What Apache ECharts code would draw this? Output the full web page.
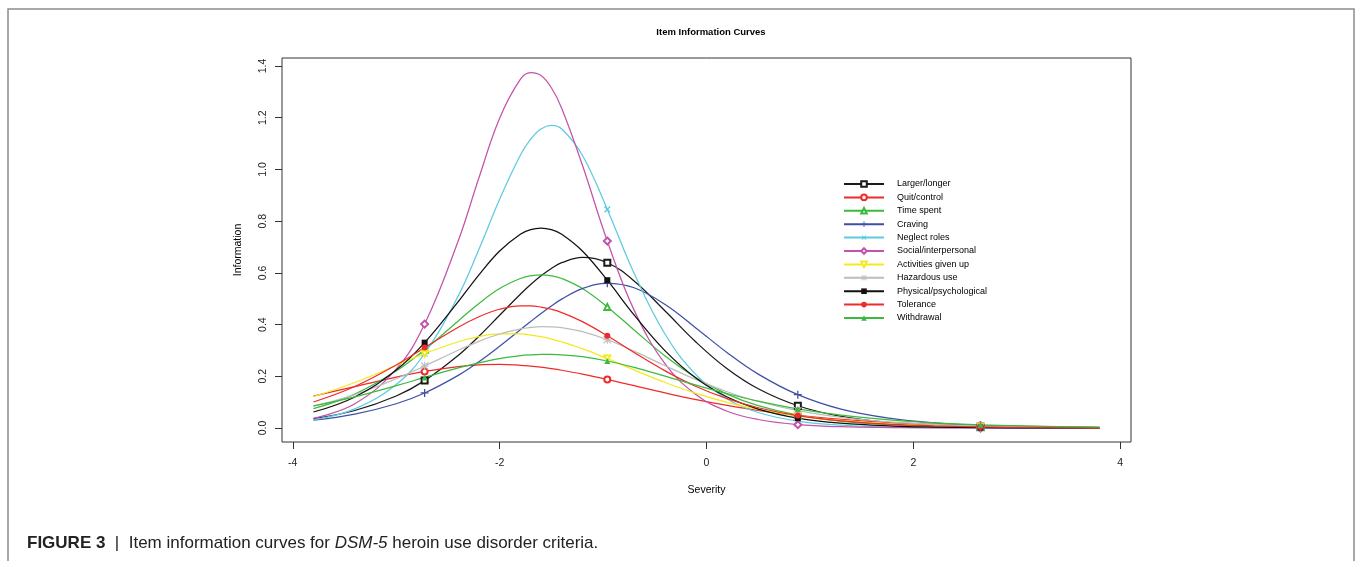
<!DOCTYPE html>
<html>
<head>
    <meta charset="utf-8">
    <title>Item Information Curves</title>
    <script src="https://cdn.jsdelivr.net/npm/echarts@6/dist/echarts.min.js"></script>
    <style type="text/css">
        html, body { margin: 0; padding: 0; background: #fff; }
        #main { width: 1356px; height: 561px; }
    </style>
</head>
<body>
    <div id="main"></div>
    <script type="text/javascript">
        // severity grid (theta) and the points where the markers sit
        const severity = [-3.8, -3.4, -3.0, -2.725, -2.4, -2.2, -2.0, -1.8, -1.7, -1.6, -1.5, -1.4, -1.2,
                          -0.959, -0.7, -0.4, -0.1, 0.2, 0.5, 0.883, 1.3, 1.8, 2.2, 2.649, 3.2, 3.8];
        const markerAt = [-2.725, -0.959, 0.883, 2.649];

        // information values, one per severity point
        const largerLonger = [0.0363, 0.0679, 0.1239, 0.1834, 0.2809, 0.355, 0.436, 0.5172, 0.5549, 0.5887, 0.6173, 0.6394, 0.6598,
                              0.6392, 0.569, 0.4525, 0.3318, 0.2291, 0.1517, 0.0863, 0.0453, 0.0205, 0.0108, 0.0052, 0.0021, 0.0008];
        const quitControl = [0.1236, 0.16, 0.1968, 0.2189, 0.2379, 0.2443, 0.2459, 0.2428, 0.2395, 0.2351, 0.2298, 0.2235, 0.2086,
                             0.1878, 0.1638, 0.136, 0.1102, 0.0875, 0.0684, 0.0491, 0.0337, 0.0211, 0.0144, 0.0093, 0.0054, 0.003];
        const timeSpent = [0.075, 0.1314, 0.2205, 0.3026, 0.4142, 0.4818, 0.5393, 0.5782, 0.5885, 0.592, 0.5885, 0.5782, 0.5393,
                           0.4685, 0.3791, 0.2787, 0.1947, 0.1314, 0.0865, 0.0497, 0.0267, 0.0125, 0.0068, 0.0034, 0.0015, 0.0006];
        const craving = [0.0302, 0.0537, 0.094, 0.1356, 0.2037, 0.2563, 0.316, 0.3799, 0.4119, 0.443, 0.4722, 0.4986, 0.5393,
                         0.5599, 0.5424, 0.4777, 0.3863, 0.2915, 0.2086, 0.1291, 0.0733, 0.036, 0.0201, 0.0103, 0.0045, 0.0019];
        const neglectRoles = [0.0318, 0.0742, 0.1688, 0.2882, 0.5112, 0.6914, 0.8848, 1.0549, 1.1169, 1.1564, 1.17, 1.1564, 1.0549,
                              0.8456, 0.5982, 0.3627, 0.2058, 0.1124, 0.0601, 0.0267, 0.0109, 0.0037, 0.0016, 0.0006, 0.0002, 0.0001];
        const socialInterpersonal = [0.0376, 0.0941, 0.2278, 0.402, 0.724, 0.968, 1.198, 1.348, 1.374, 1.363, 1.316, 1.237, 1.017,
                                     0.723, 0.456, 0.248, 0.129, 0.065, 0.033, 0.013, 0.005, 0.002, 0.001, 0.0002, 0.0001, 0];
        const activitiesGivenUp = [0.1214, 0.1762, 0.2417, 0.2875, 0.3336, 0.3533, 0.3637, 0.3637, 0.3597, 0.3533, 0.3445, 0.3336, 0.3068,
                                   0.2685, 0.2247, 0.1762, 0.1338, 0.0992, 0.0722, 0.0473, 0.0293, 0.0163, 0.0102, 0.0059, 0.0031, 0.0015];
        const hazardousUse = [0.0844, 0.1295, 0.1905, 0.24, 0.3009, 0.3353, 0.3637, 0.3833, 0.389, 0.3918, 0.3914, 0.3881, 0.3727,
                              0.3414, 0.2972, 0.241, 0.1871, 0.1404, 0.1027, 0.0672, 0.0413, 0.0227, 0.0139, 0.008, 0.004, 0.0019];
        const physicalPsych = [0.062, 0.1202, 0.224, 0.3302, 0.4888, 0.5924, 0.6848, 0.7496, 0.7671, 0.773, 0.7671, 0.7496, 0.6848,
                               0.5716, 0.4373, 0.2983, 0.1927, 0.1202, 0.0734, 0.0383, 0.0187, 0.0078, 0.0039, 0.0018, 0.0007, 0.0002];
        const tolerance = [0.1006, 0.1607, 0.2439, 0.311, 0.3898, 0.4305, 0.4593, 0.4724, 0.4724, 0.468, 0.4593, 0.4466, 0.4113,
                           0.3567, 0.2923, 0.2211, 0.1607, 0.1135, 0.0785, 0.048, 0.0277, 0.0141, 0.0082, 0.0044, 0.0021, 0.0009];
        const withdrawal = [0.086, 0.1209, 0.1637, 0.1956, 0.2324, 0.2523, 0.2685, 0.2796, 0.2829, 0.2847, 0.2849, 0.2834, 0.2758,
                            0.2592, 0.2346, 0.2009, 0.1659, 0.133, 0.1041, 0.0741, 0.05, 0.0304, 0.0202, 0.0127, 0.0071, 0.0038];

        // tick labels
        const xTicks = [-4, -2, 0, 2, 4];
        const yTicks = [0, 0.2, 0.4, 0.6, 0.8, 1.0, 1.2, 1.4];

        // marker shapes (R pch 3, 4, 8)
        const plusPath = 'path://M4.2,0h1.6v10h-1.6z M0,4.2h10v1.6h-10z';
        const starPath = 'path://M4.3,0h1.4v10h-1.4z M0,4.3h10v1.4h-10z M1,0L10,9L9,10L0,1z M9,0L10,1L1,10L0,9z';

        const items = [
            {name: 'Larger/longer',          values: largerLonger,        color: '#1a1a1a', symbol: 'emptyRect'},
            {name: 'Quit/control',           values: quitControl,         color: '#ee2b2b', symbol: 'emptyCircle'},
            {name: 'Time spent',             values: timeSpent,           color: '#3dba3d', symbol: 'emptyTriangle'},
            {name: 'Craving',                values: craving,             color: '#3f4fa6', symbol: plusPath, size: 8},
            {name: 'Neglect roles',          values: neglectRoles,        color: '#5fc9e0', symbol: plusPath, size: 8, rotate: 45},
            {name: 'Social/interpersonal',   values: socialInterpersonal, color: '#c452aa', symbol: 'emptyDiamond', size: 7},
            {name: 'Activities given up',    values: activitiesGivenUp,   color: '#f2ea1e', symbol: 'emptyTriangle', rotate: 180},
            {name: 'Hazardous use',          values: hazardousUse,        color: '#bdbdbd', symbol: starPath, size: 8},
            {name: 'Physical/psychological', values: physicalPsych,       color: '#111111', symbol: 'rect'},
            {name: 'Tolerance',              values: tolerance,           color: '#ee2b2b', symbol: 'circle'},
            {name: 'Withdrawal',             values: withdrawal,          color: '#3dba3d', symbol: 'triangle'}
        ];

        const series = items.map(function (it) {
            const data = severity.map(function (x, i) {
                if (markerAt.indexOf(x) > -1) return [x, it.values[i]];
                return {value: [x, it.values[i]], symbol: 'none'};
            });
            return {
                name: it.name,
                type: 'line',
                data: data,
                smooth: 0.4,
                symbol: it.symbol,
                symbolSize: it.size || 6,
                symbolRotate: it.rotate || 0,
                showSymbol: true,
                lineStyle: {color: it.color, width: 1.25},
                itemStyle: {color: it.color, borderWidth: 1},
                emphasis: {disabled: true},
                clip: false
            };
        });

        const myChart = echarts.init(document.getElementById('main'), null, {renderer: 'canvas'});
        const font = '"Liberation Sans", Arial, Helvetica, sans-serif';

        const option = {
            animation: false,
            textStyle: {fontFamily: font},
            title: {
                text: 'Item Information Curves',
                left: 706,
                top: 22,
                textAlign: 'center',
                textStyle: {fontSize: 9.5, fontWeight: 'bold', color: '#000', fontFamily: font}
            },
            legend: {
                orient: 'vertical',
                left: 838,
                top: 173,
                itemWidth: 40,
                itemHeight: 7,
                itemGap: 1.4,
                selectedMode: false,
                textStyle: {fontSize: 9, color: '#000', lineHeight: 12, fontFamily: font, padding: [0, 0, 0, 8]},
                data: items.map(function (it) { return it.name; })
            },
            grid: {
                left: 282, right: 225, top: 58, bottom: 119,
                show: true, borderColor: '#333', borderWidth: 1, backgroundColor: 'transparent'
            },
            xAxis: {
                type: 'value',
                min: -4.104,
                max: 4.104,
                name: 'Severity',
                nameLocation: 'middle',
                nameGap: 43,
                nameTextStyle: {fontSize: 10.5, color: '#000', fontFamily: font},
                axisLine: {show: false, onZero: false},
                splitLine: {show: false},
                axisTick: {show: true, length: 7, customValues: xTicks, lineStyle: {color: '#333'}},
                axisLabel: {customValues: xTicks, margin: 16, fontSize: 10.5, color: '#222', fontFamily: font}
            },
            yAxis: {
                type: 'value',
                min: -0.054,
                max: 1.431,
                name: 'Information',
                nameLocation: 'middle',
                nameRotate: 90,
                nameGap: 38,
                nameTextStyle: {fontSize: 10.5, color: '#000', fontFamily: font},
                axisLine: {show: false, onZero: false},
                splitLine: {show: false},
                axisTick: {show: true, length: 7, customValues: yTicks, lineStyle: {color: '#333'}},
                axisLabel: {
                    customValues: yTicks, rotate: 90, margin: 13, fontSize: 10.5, color: '#222', fontFamily: font,
                    formatter: function (v) { return v.toFixed(1); }
                }
            },
            graphic: [
                {
                    type: 'rect', silent: true, z: -10,
                    shape: {x: 8, y: 9, width: 1346, height: 700},
                    style: {fill: 'none', stroke: '#8c8c8c', lineWidth: 1.5}
                },
                {
                    type: 'text', silent: true, left: 27, top: 535,
                    style: {
                        text: '{b|FIGURE 3}  |  Item information curves for {i|DSM-5} heroin use disorder criteria.',
                        font: '17px ' + font,
                        fill: '#222',
                        rich: {
                            b: {fontWeight: 'bold', fontSize: 17, fontFamily: font, fill: '#222'},
                            i: {fontStyle: 'italic', fontSize: 17, fontFamily: font, fill: '#222'}
                        }
                    }
                }
            ],
            series: series
        };
        myChart.setOption(option);
    </script>
</body>
</html>
